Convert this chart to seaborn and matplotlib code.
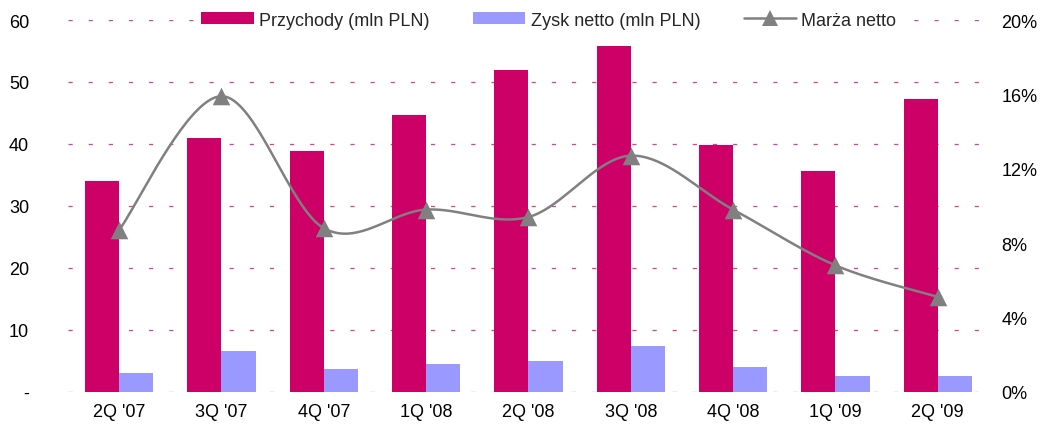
import numpy as np
import pandas as pd
import matplotlib
matplotlib.use('Agg')
import matplotlib.pyplot as plt
import seaborn as sns
from matplotlib.patches import Patch
from matplotlib.lines import Line2D
from matplotlib.ticker import FuncFormatter

# data
quarters = ["2Q '07", "3Q '07", "4Q '07", "1Q '08", "2Q '08", "3Q '08", "4Q '08", "1Q '09", "2Q '09"]
revenue = [34.0, 41.0, 38.9, 44.6, 52.0, 55.8, 39.8, 35.7, 47.2]      # Przychody (mln PLN)
net_profit = [3.0, 6.6, 3.6, 4.5, 5.0, 7.3, 4.0, 2.5, 2.5]            # Zysk netto (mln PLN)
net_margin = [8.7, 15.9, 8.8, 9.8, 9.4, 12.7, 9.8, 6.8, 5.1]          # Marża netto (%)

rev_label = 'Przychody (mln PLN)'
np_label = 'Zysk netto (mln PLN)'
margin_label = 'Marża netto'

red = '#CC0066'
blue = '#9999FF'
grey = '#808080'

sns.set_theme(style='white')
plt.rcParams['font.family'] = ['Liberation Sans', 'DejaVu Sans']
plt.rcParams['lines.scale_dashes'] = False

df = pd.DataFrame({
    'Kwartał': quarters * 2,
    'Wartość': revenue + net_profit,
    'Seria': [rev_label] * len(quarters) + [np_label] * len(quarters),
})


def smooth_path(xs, ys, n=40):
    # Excel-style smoothed line (Catmull-Rom as cubic Bezier segments)
    pts = np.column_stack([xs, ys]).astype(float)
    out = [pts[0]]
    t = np.linspace(0, 1, n)[1:, None]
    for i in range(len(pts) - 1):
        p0 = pts[i - 1] if i > 0 else pts[i]
        p1, p2 = pts[i], pts[i + 1]
        p3 = pts[i + 2] if i + 2 < len(pts) else pts[i + 1]
        c1 = p1 + (p2 - p0) / 6
        c2 = p2 - (p3 - p1) / 6
        seg = (1 - t) ** 3 * p1 + 3 * (1 - t) ** 2 * t * c1 + 3 * (1 - t) * t ** 2 * c2 + t ** 3 * p2
        out.extend(seg)
    return np.array(out)


fig = plt.figure(figsize=(10.41, 4.27), dpi=100)
ax = fig.add_axes([0.0653, 0.0803, 0.8847, 0.8705])

sns.barplot(data=df, x='Kwartał', y='Wartość', hue='Seria',
            palette=[red, blue], saturation=1, width=0.67, gap=0,
            linewidth=0, legend=False, ax=ax)
ax.set_xlim(-0.5, len(quarters) - 0.5)
ax.set_ylim(0, 60)
ax.set_yticks(range(0, 61, 10))
ax.yaxis.set_major_formatter(FuncFormatter(lambda v, p: '-' if v == 0 else f'{v:.0f}'))
ax.set_xlabel('')
ax.set_ylabel('')
ax.set_axisbelow(True)
ax.yaxis.grid(True, color='#E0408A', linewidth=0.9, linestyle=(0, (3, 11.5)))
ax.xaxis.grid(False)
ax.tick_params(axis='y', length=0, pad=28, labelsize=13, labelcolor='black')
ax.tick_params(axis='x', length=0, pad=8, labelsize=13, labelcolor='black')
for s in ax.spines.values():
    s.set_visible(False)

ax2 = ax.twinx()
xs = np.arange(len(quarters))
curve = smooth_path(xs, net_margin)
ax2.plot(curve[:, 0], curve[:, 1], color=grey, linewidth=1.8, zorder=3)
sns.scatterplot(x=xs, y=net_margin, marker='^', s=160, color=grey,
                edgecolor=grey, linewidth=0, ax=ax2, zorder=4)
ax2.set_ylim(0, 20)
ax2.set_yticks(range(0, 21, 4))
ax2.yaxis.set_major_formatter(FuncFormatter(lambda v, p: f'{v:.0f}%'))
ax2.set_ylabel('')
ax2.grid(False)
ax2.tick_params(axis='y', length=0, pad=9, labelsize=13, labelcolor='black')
for s in ax2.spines.values():
    s.set_visible(False)

handles = [
    Patch(facecolor=red, edgecolor='none', label=rev_label),
    Patch(facecolor=blue, edgecolor='none', label=np_label),
    Line2D([0], [0], color=grey, linewidth=1.8, marker='^', markersize=11,
           markeredgewidth=0, label=margin_label),
]
leg = ax2.legend(handles=handles, loc='center', bbox_to_anchor=(0.522, 1.0),
                 ncol=3, frameon=True, fontsize=13, handlelength=2.9,
                 handleheight=0.65, handletextpad=0.3, columnspacing=2.4,
                 borderpad=0.2, borderaxespad=0)
leg.get_frame().set_facecolor('white')
leg.get_frame().set_edgecolor('none')
leg.get_frame().set_alpha(1)

fig.savefig('out.png', dpi=100)
